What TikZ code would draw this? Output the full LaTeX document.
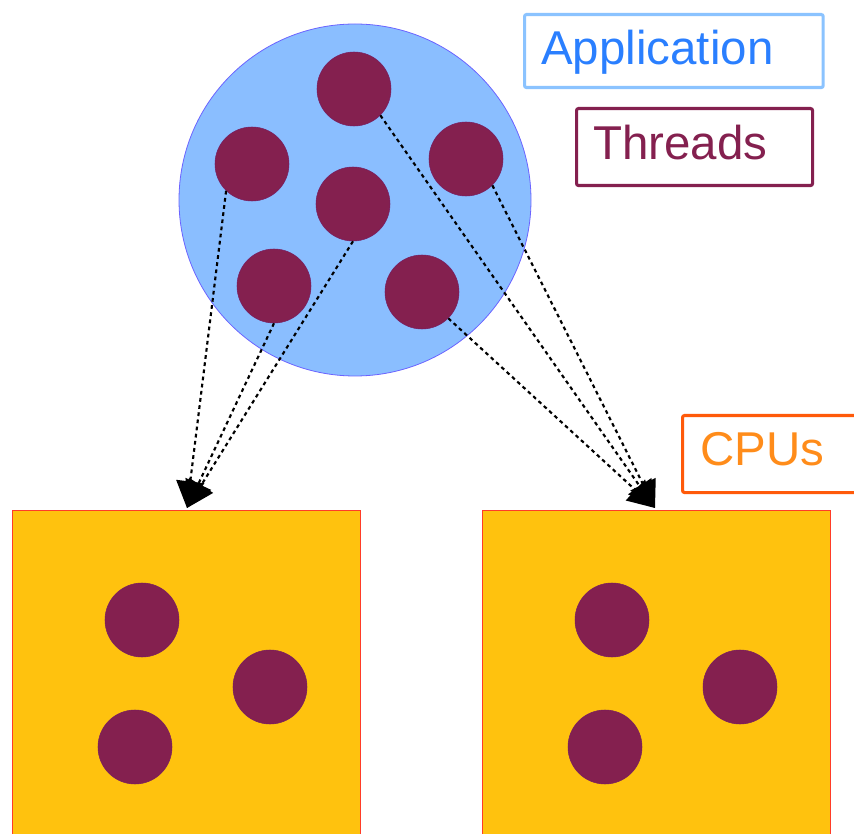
\documentclass[tikz,border=0pt]{standalone}
\usepackage{fontspec}
\setmainfont{Liberation Sans}
\usetikzlibrary{arrows.meta}
\definecolor{thread}{HTML}{84204F}
\definecolor{appfill}{HTML}{8ABEFF}
\definecolor{appedge}{HTML}{6B63FF}
\definecolor{cpufill}{HTML}{FFC20E}
\definecolor{cpuedge}{HTML}{FF3C28}
\definecolor{apptext}{HTML}{2A7FFF}
\definecolor{appbox}{HTML}{8BC3FF}
\definecolor{cputext}{HTML}{FF8C1A}
\definecolor{cpubox}{HTML}{FF5A0A}
\tikzset{
  thr/.style={circle, fill=thread, draw=thread!90!blue, line width=0.4pt, minimum size=55.5pt, inner sep=0pt},
  link/.style={draw=black, line width=1.6pt, dash pattern=on 2.8pt off 2.6pt, -{Triangle[length=20pt,width=21pt]}},
  legbox/.style={draw, line width=2.3pt, rounded corners=1.5pt, inner sep=0pt},
  legtext/.style={anchor=base west, inner sep=0pt, font=\fontsize{35.6}{40}\selectfont},
}
\begin{document}
\begin{tikzpicture}[x=0.75pt, y=-0.75pt]
\useasboundingbox (0,0) rectangle (854,834);
\clip (0,0) rectangle (854,834);
% application circle
\node[circle, fill=appfill, draw=appedge, line width=0.6pt, minimum size=264pt, inner sep=0pt] (app) at (355,200) {};
% threads in application
\node[thr] (t1) at (354,89) {};
\node[thr] (t2) at (252,164) {};
\node[thr] (t3) at (466,159) {};
\node[thr] (t4) at (353,204) {};
\node[thr] (t5) at (274,286) {};
\node[thr] (t6) at (422,292) {};
% CPUs
\draw[fill=cpufill, draw=cpuedge, line width=0.6pt] (12,510) rectangle (360,850);
\draw[fill=cpufill, draw=cpuedge, line width=0.6pt] (482,510) rectangle (830,850);
\coordinate (tipL) at (187,508);
\coordinate (tipR) at (655,508);
% threads in CPUs
\node[thr] (c1) at (142,620) {};
\node[thr] (c2) at (270,687) {};
\node[thr] (c3) at (135,747) {};
\node[thr] (c4) at (612,620) {};
\node[thr] (c5) at (740,687) {};
\node[thr] (c6) at (605,747) {};
% links
\draw[link] (t2.226) -- (tipL);
\draw[link] (t4.270) -- (tipL);
\draw[link] (t5.270) -- (tipL);
\draw[link] (t1.315) -- (tipR);
\draw[link] (t3.315) -- (tipR);
\draw[link] (t6.315) -- (tipR);
% legend
\node[legbox, draw=appbox, minimum width=224pt, minimum height=54.75pt, anchor=north west] (lapp) at (523,13) {};
\node[legtext, text=apptext] (lappt) at (541,65) {Application};
\node[legbox, draw=thread, minimum width=177pt, minimum height=57.75pt, anchor=north west] (lthr) at (575,107) {};
\node[legtext, text=thread] (lthrt) at (593,160) {Threads};
\node[legbox, draw=cpubox, minimum width=150pt, minimum height=57.75pt, anchor=north west] (lcpu) at (681,414) {};
\node[legtext, text=cputext] (lcput) at (700,465) {CPUs};
\end{tikzpicture}
\end{document}
